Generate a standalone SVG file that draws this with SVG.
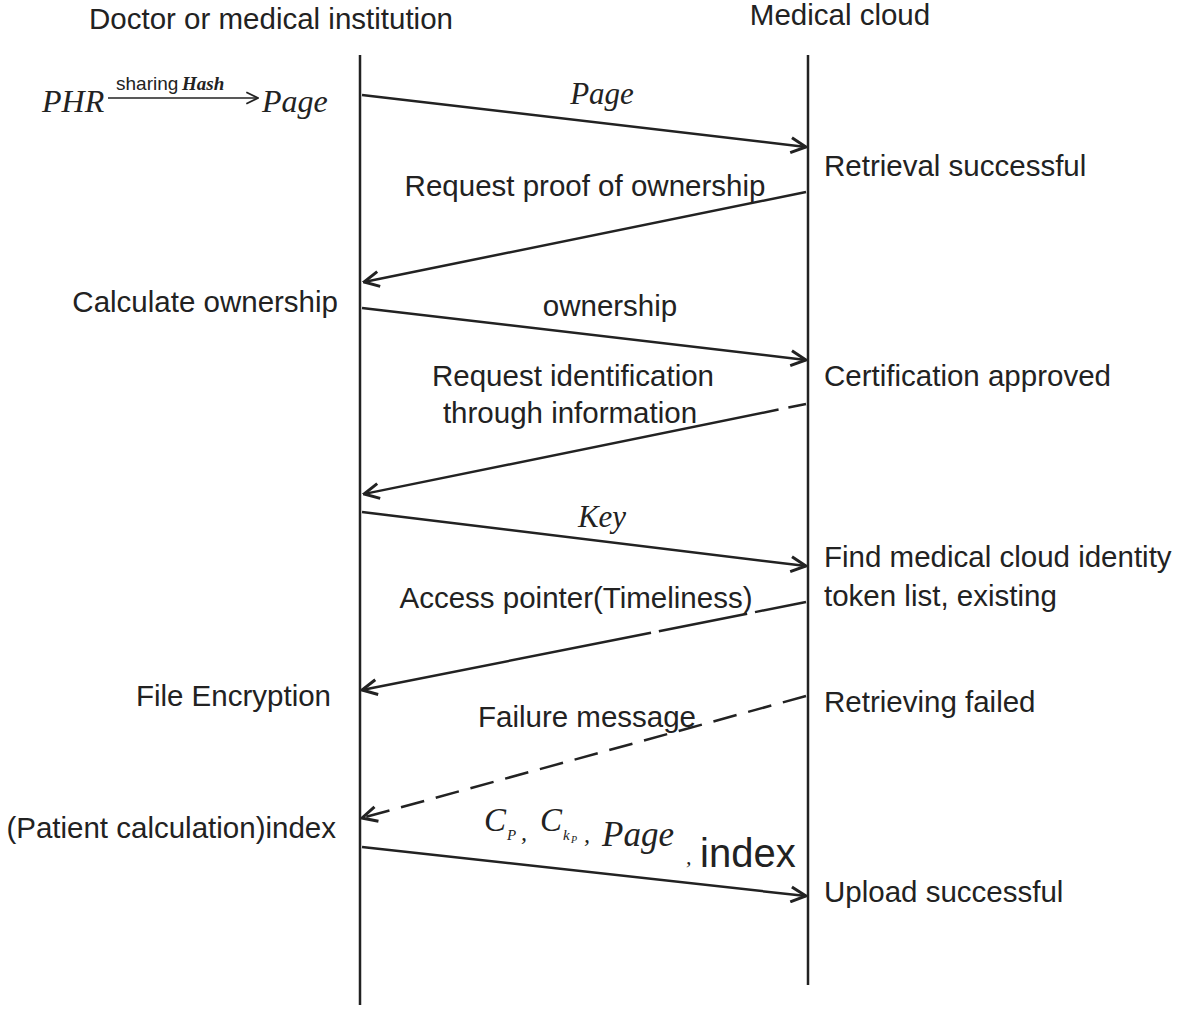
<svg xmlns="http://www.w3.org/2000/svg" width="1181" height="1009" viewBox="0 0 1181 1009">
<style>
.t{font-family:"Liberation Sans",Arial,sans-serif;font-size:29.5px;fill:#222}
.m{font-family:"Liberation Serif","Times New Roman",serif;font-style:italic;fill:#222}
.ln{stroke:#222;stroke-width:2.5;fill:none}
.msg{stroke:#222;stroke-width:2.5;fill:none;marker-end:url(#ah)}
</style>
<defs>
<marker id="ah" viewBox="0 0 12 12" refX="11" refY="6" markerWidth="18" markerHeight="18" markerUnits="userSpaceOnUse" orient="auto">
<path d="M1,1 L11,6 L1,11" fill="none" stroke="#222" stroke-width="2"/>
</marker>
<marker id="ah2" viewBox="0 0 12 12" refX="11" refY="6" markerWidth="14" markerHeight="14" markerUnits="userSpaceOnUse" orient="auto">
<path d="M1,1 L11,6 L1,11" fill="none" stroke="#222" stroke-width="1.5"/>
</marker>
</defs>
<rect width="1181" height="1009" fill="#fff"/>
<g id="lifeline-doctor">
<text class="t" x="271" y="29" text-anchor="middle">Doctor or medical institution</text>
<line class="ln" x1="360" y1="55" x2="360" y2="1005"/>
</g>
<g id="lifeline-cloud">
<text class="t" x="840" y="25" text-anchor="middle">Medical cloud</text>
<line class="ln" x1="808" y1="55" x2="808" y2="985"/>
</g>
<g id="doctor-labels">
<g id="formula-top">
<text class="m" x="42" y="112" font-size="32">PHR</text>
<text x="116" y="90" font-family="Liberation Sans,Arial,sans-serif" font-size="19" fill="#222">sharing</text>
<text x="182" y="90" font-family="Liberation Serif,serif" font-style="italic" font-weight="bold" font-size="19" fill="#222">Hash</text>
<line x1="108" y1="98" x2="258" y2="98" stroke="#222" stroke-width="1.5" marker-end="url(#ah2)"/>
<text class="m" x="262" y="112" font-size="32">Page</text>
</g>
<text class="t" x="338" y="312" text-anchor="end">Calculate ownership</text>
<text class="t" x="331" y="706" text-anchor="end">File Encryption</text>
<text class="t" x="336" y="838" text-anchor="end">(Patient calculation)index</text>
</g>
<g id="cloud-labels">
<text class="t" x="824" y="176">Retrieval successful</text>
<text class="t" x="824" y="386">Certification approved</text>
<text class="t" x="824" y="567">Find medical cloud identity</text>
<text class="t" x="824" y="606">token list, existing</text>
<text class="t" x="824" y="712">Retrieving failed</text>
<text class="t" x="824" y="902">Upload successful</text>
</g>
<g id="connectors">
<line class="msg" x1="362" y1="95" x2="806" y2="147"/>
<line class="msg" x1="806" y1="192" x2="364" y2="282"/>
<line class="msg" x1="362" y1="308" x2="806" y2="360"/>
<line class="msg" x1="806" y1="404" x2="364" y2="494" stroke-dasharray="18 10 420"/>
<line class="msg" x1="806" y1="602" x2="362" y2="690" stroke-dasharray="52 8 90 8 400"/>
<line class="msg" x1="362" y1="512" x2="806" y2="566"/>
<line class="msg" x1="806" y1="696" x2="362" y2="818" stroke-dasharray="24 12"/>
<line class="msg" x1="362" y1="847" x2="806" y2="896"/>
</g>
<g id="message-labels">
<text class="m" x="602" y="104" font-size="31" text-anchor="middle">Page</text>
<text class="t" x="585" y="196" text-anchor="middle">Request proof of ownership</text>
<text class="t" x="610" y="316" text-anchor="middle">ownership</text>
<text class="t" x="573" y="386" text-anchor="middle">Request identification</text>
<text class="t" x="570" y="423" text-anchor="middle">through information</text>
<text class="m" x="602" y="527" font-size="31" text-anchor="middle">Key</text>
<text class="t" x="576" y="608" text-anchor="middle">Access pointer(Timeliness)</text>
<text class="t" x="587" y="727" text-anchor="middle">Failure message</text>
<g id="formula-bottom">
<text class="m" x="484" y="831" font-size="33">C</text>
<text class="m" x="507" y="840" font-size="15">P</text>
<text class="m" x="521" y="840" font-size="24">,</text>
<text class="m" x="540" y="831" font-size="33">C</text>
<text class="m" x="563" y="840" font-size="15">k</text>
<text class="m" x="571" y="843" font-size="10">P</text>
<text class="m" x="584" y="842" font-size="24">,</text>
<text class="m" x="602" y="846" font-size="35">Page</text>
<text class="m" x="686" y="864" font-size="22">,</text>
<text x="700" y="867" font-family="Liberation Sans,Arial,sans-serif" font-size="40" fill="#222">index</text>
</g>
</g>
</svg>
